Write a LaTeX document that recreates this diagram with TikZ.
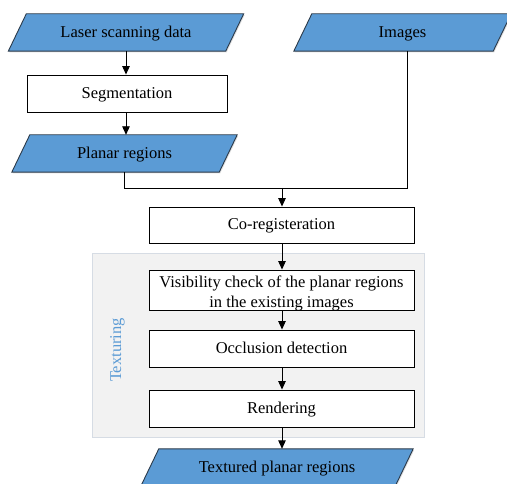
\documentclass[tikz,border=0pt]{standalone}
\usepackage{fontspec}
\setmainfont{Liberation Serif}
\usetikzlibrary{arrows.meta,shadows}
\definecolor{iofill}{HTML}{5B9BD5}
\definecolor{ioline}{HTML}{2B3A4A}
\definecolor{groupfill}{HTML}{F2F2F2}
\definecolor{groupline}{HTML}{D6DCE4}
\definecolor{grouptext}{HTML}{5B9BD5}
\begin{document}
\begin{tikzpicture}[x=1pt,y=-1pt,
  font=\fontsize{16.5}{20}\selectfont,
  txt/.style={inner sep=0pt, align=center, text height=13pt, text depth=3pt},
  multitxt/.style={inner sep=0pt, align=center},
  iobox/.style={inner sep=0pt, minimum height=37pt},
  frame/.style={draw=black, line width=0.9pt, fill=white, minimum height=37pt},
  procbox/.style={txt, frame},
  iofig/.style={fill=iofill, draw=ioline, line width=0.9pt,
    drop shadow={opacity=0.25, shadow xshift=1pt, shadow yshift=-1.2pt}},
  flow/.style={line width=0.9pt, -{Triangle[length=8.5pt,width=7.5pt]}},
  link/.style={line width=0.9pt}]
\useasboundingbox (0,0) rectangle (507,484);

% texturing group frame
\node[draw=groupline, fill=groupfill, line width=0.9pt, minimum width=332pt, minimum height=184pt,
  drop shadow={opacity=0.15, shadow xshift=1pt, shadow yshift=-1pt}] (grp) at (258,345) {};
\node[txt, rotate=90, text=grouptext] (grplbl) at (116,350) {Texturing};

% input / output text carriers (parallelograms drawn round them below)
\node[iobox, minimum width=217pt] (lsd) at (126,32.5) {};
\node[iobox, minimum width=207pt] (pr)  at (124.5,153.5) {};
\node[iobox, minimum width=199pt] (img) at (402.5,32.5) {};
\node[iobox, minimum width=254pt] (tex) at (277,467.5) {};

\foreach \n in {lsd,pr,img,tex}{
  \path[iofig] ([xshift=9pt]\n.north west) -- ([xshift=9pt]\n.north east)
    -- ([xshift=-9pt]\n.south east) -- ([xshift=-9pt]\n.south west) -- cycle;
}
\node[txt] (lsdt) at (lsd) {Laser scanning data};
\node[txt] (prt)  at (pr)  {Planar regions};
\node[txt] (imgt) at (img) {Images};
\node[txt] (text) at (tex) {Textured planar regions};

% processing steps
\node[procbox, minimum width=200pt] (seg) at (127,93.5) {Segmentation};
\node[procbox, minimum width=265pt, minimum height=36pt] (co) at (281.5,225) {Co-registeration};
\node[frame, minimum width=265pt, minimum height=40pt] (vis) at (281.5,290) {};
\node[multitxt] (vist) at ([yshift=-3pt]vis.center)
  {Visibility check of the planar regions\\in the existing images};
\node[procbox, minimum width=265pt] (occ) at (281.5,348.5) {Occlusion detection};
\node[procbox, minimum width=265pt] (ren) at (281.5,408.5) {Rendering};

% connectors
\coordinate (jn) at (282,188);
\draw[flow] (lsd.south) -- (lsd.south |- seg.north);
\draw[flow] (lsd.south |- seg.south) -- (lsd.south |- pr.north);
\draw[link] ([xshift=-0.5pt]pr.south) |- (jn);
\draw[link] ([xshift=4.5pt]img.south) |- (jn);
\draw[flow] (jn) -- (jn |- co.north);
\draw[flow] (jn |- co.south) -- (jn |- vis.north);
\draw[flow] (jn |- vis.south) -- (jn |- occ.north);
\draw[flow] (jn |- occ.south) -- (jn |- ren.north);
\draw[flow] (jn |- ren.south) -- (jn |- tex.north);
\end{tikzpicture}
\end{document}
